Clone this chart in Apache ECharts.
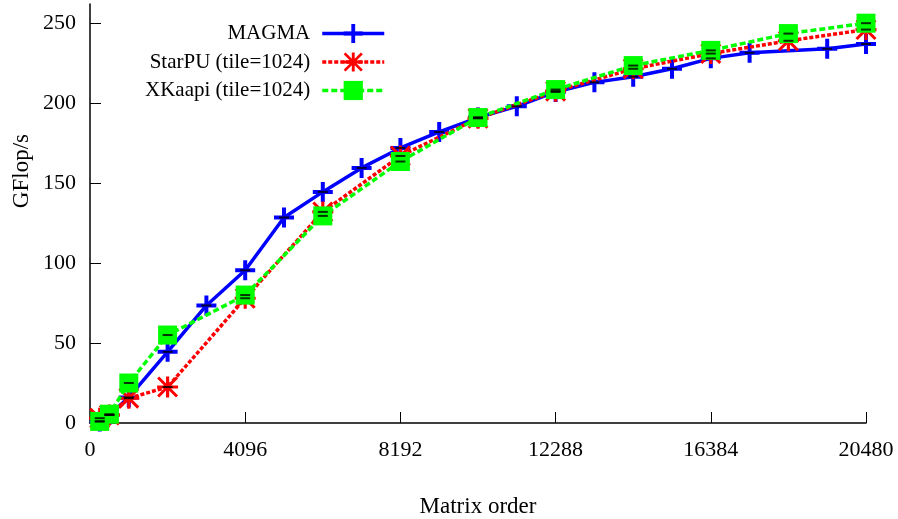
<!DOCTYPE html>
<html>
<head>
<meta charset="utf-8">
<script src="https://cdn.jsdelivr.net/npm/echarts@6/dist/echarts.min.js"></script>
<style>
html,body{margin:0;padding:0;background:#fff;}
#c{width:898px;height:519px;}
</style>
</head>
<body>
<div id="c"></div>
<script>
// ---- data ----
const magmaX = [256, 512, 1024, 2048, 3072, 4096, 5120, 6144, 7168, 8192, 9216, 10240, 11264, 12288, 13312, 14336, 15360, 16384, 17408, 19456, 20480];
const magmaY = [1, 5, 16, 44.5, 73.5, 95.5, 128.5, 144.5, 159.5, 172, 182, 191, 198, 207, 213, 216.5, 221.5, 228, 231.5, 234, 237];
const tiledX = [256, 512, 1024, 2048, 4096, 6144, 8192, 10240, 12288, 14336, 16384, 18432, 20480];
const starpuY = [3, 5, 15.5, 22.5, 78, 132, 167, 190.5, 207.5, 221.5, 231, 239, 246];
const xkaapiY = [1, 5.5, 25, 55, 80, 129.5, 163.5, 191, 208.5, 223.5, 233, 243.5, 250];
const seriesNames = ['MAGMA', 'StarPU (tile=1024)', 'XKaapi (tile=1024)'];
const xTicks = [0, 4096, 8192, 12288, 16384, 20480];
const yTicks = [0, 50, 100, 150, 200, 250];

const pairs = (xs, ys) => xs.map((x, i) => [x, ys[i]]);
const FONT = 'Liberation Serif';

const plusPath = 'path://M8,0h4v20h-4zM0,8h20v4h-20z';
const starPath = 'path://M8.5,0h3v20h-3zM0,8.5h20v3h-20zM0,2L2,0L20,18L18,20ZM18,0L20,2L2,20L0,18Z';
const dashPath = 'path://M0,0h10v2h-10z';

function errSeries(data) {
  return {
    type: 'scatter', data: data, symbol: dashPath, symbolSize: [10, 2],
    itemStyle: { color: '#000' }, silent: true, z: 5, legendHoverLink: false,
    tooltip: { show: false }
  };
}

const chart = echarts.init(document.getElementById('c'), null, { renderer: 'canvas' });
chart.setOption({
  animation: false,
  backgroundColor: '#fff',
  textStyle: { fontFamily: FONT, color: '#000' },
  grid: { left: 90, right: 32, top: 4, bottom: 96, containLabel: false, outerBoundsMode: 'none' },
  legend: {
    data: seriesNames,
    orient: 'vertical',
    align: 'right',
    right: 512,
    top: 23,
    padding: 0,
    itemWidth: 62,
    itemHeight: 24,
    itemGap: 7.5,
    lineStyle: { width: 3.5 },
    textStyle: { fontFamily: FONT, fontSize: 21, color: '#000', padding: [0, 7, 0, 0] }
  },
  graphic: [{
    type: 'text', left: 10, top: 134, rotation: Math.PI / 2,
    style: { text: 'GFlop/s', font: '23px "Liberation Serif"', fill: '#000' }
  }],
  xAxis: {
    type: 'value', min: 0, max: 20480, interval: 4096,
    name: 'Matrix order', nameLocation: 'middle', nameGap: 72,
    nameTextStyle: { fontFamily: FONT, fontSize: 23, color: '#000' },
    axisLine: { show: true, lineStyle: { color: '#000', width: 1.5 } },
    axisTick: { show: true, inside: true, length: 11, lineStyle: { color: '#000', width: 1 }, customValues: xTicks },
    axisLabel: { fontFamily: FONT, fontSize: 22, color: '#000', margin: 16, customValues: xTicks, formatter: v => String(v) },
    splitLine: { show: false }
  },
  yAxis: {
    type: 'value', min: 0, max: 262, interval: 50,
    axisLine: { show: true, lineStyle: { color: '#000', width: 1.5 } },
    axisTick: { show: true, inside: true, length: 11, lineStyle: { color: '#000', width: 1 }, customValues: yTicks },
    axisLabel: { fontFamily: FONT, fontSize: 22, color: '#000', margin: 14, customValues: yTicks, formatter: v => String(v) },
    splitLine: { show: false }
  },
  series: [
    {
      name: seriesNames[0], type: 'line', data: pairs(magmaX, magmaY),
      symbol: plusPath, symbolSize: 20, showAllSymbol: true,
      lineStyle: { color: '#0000ff', width: 3.5 },
      itemStyle: { color: '#0000ff' }, z: 2
    },
    {
      name: seriesNames[1], type: 'line', data: pairs(tiledX, starpuY),
      symbol: starPath, symbolSize: 21, showAllSymbol: true,
      lineStyle: { color: '#ff0000', width: 3.5, type: [4, 2] },
      itemStyle: { color: '#ff0000' }, z: 3
    },
    {
      name: seriesNames[2], type: 'line', data: pairs(tiledX, xkaapiY),
      symbol: 'rect', symbolSize: 19, showAllSymbol: true,
      lineStyle: { color: '#00ff00', width: 3.5, type: [6, 3] },
      itemStyle: { color: '#00ff00' }, z: 4
    },
    errSeries(pairs(magmaX, magmaY)),
    errSeries(pairs(tiledX, starpuY)),
    errSeries(pairs(tiledX, xkaapiY))
  ]
});
</script>
</body>
</html>
